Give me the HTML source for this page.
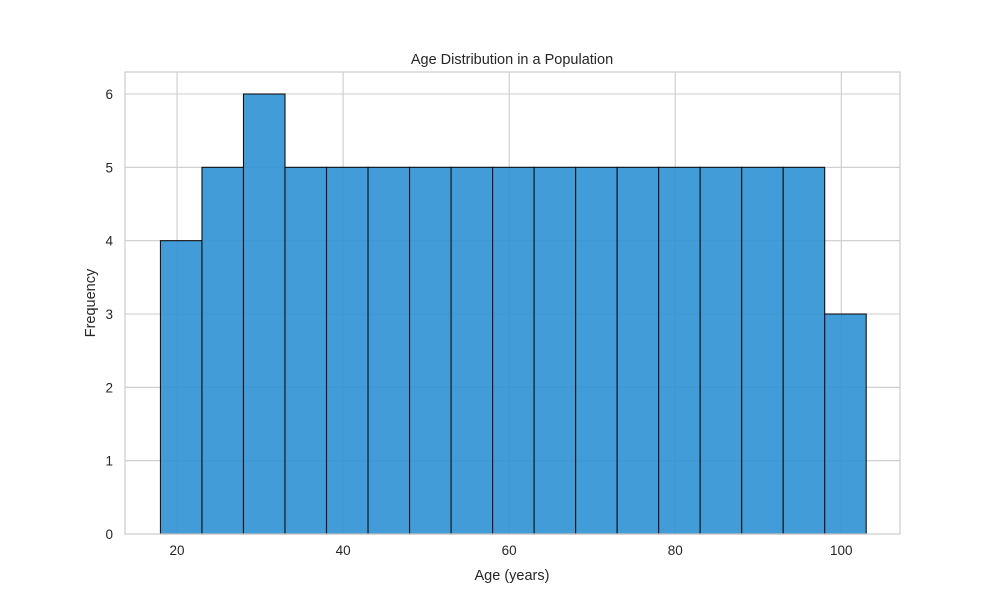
<!DOCTYPE html>
<html><head><meta charset="utf-8"><style>
body{margin:0;background:#fff;}
svg{font-family:"Liberation Sans","DejaVu Sans",sans-serif;}
</style></head><body>
<svg id="chart" width="1000" height="600" viewBox="0 0 1000 600">
<rect width="1000" height="600" fill="#fff"/>
<g id="grid"></g>
<g id="bars"></g>
<rect x="125" y="72" width="775" height="462" fill="none" stroke="#cccccc" stroke-width="1.2"/>
<g id="ticks"></g>
<text x="512" y="64" text-anchor="middle" font-size="14.5" fill="#262626">Age Distribution in a Population</text>
<text x="512" y="580" text-anchor="middle" font-size="14.5" fill="#262626">Age (years)</text>
<text x="95" y="303" text-anchor="middle" font-size="14.5" fill="#262626" transform="rotate(-90 95 303)">Frequency</text>
</svg>
<script>
const binEdgesStart = 18;
const binWidth = 5;
const counts = [4,5,6,5,5,5,5,5,5,5,5,5,5,5,5,5,3];
const xTicks = [20,40,60,80,100];
const yTicks = [0,1,2,3,4,5,6];

const NS = "http://www.w3.org/2000/svg";
const L=125,R=900,T=72,B=534;
const xMin=13.73,xMax=107.07,yMin=0,yMax=6.3;
const xs=v=>L+(v-xMin)/(xMax-xMin)*(R-L);
const ys=v=>B-(v-yMin)/(yMax-yMin)*(B-T);
function mk(tag,attrs,parent){const e=document.createElementNS(NS,tag);for(const k in attrs)e.setAttribute(k,attrs[k]);parent.appendChild(e);return e;}
const grid=document.getElementById('grid'),bars=document.getElementById('bars'),ticks=document.getElementById('ticks');
xTicks.forEach(v=>{
  const l=mk('line',{x1:xs(v),x2:xs(v),y1:T,y2:B,stroke:'#cccccc','stroke-width':1.1},grid);
  
  
  const t=mk('text',{x:xs(v),y:B+21,'text-anchor':'middle','font-size':13.5,fill:'#262626'},ticks);
  t.textContent=v;
  
  
});
yTicks.forEach(v=>{
  const l=mk('line',{x1:L,x2:R,y1:ys(v),y2:ys(v),stroke:'#cccccc','stroke-width':1.1},grid);
  
  
  const t=mk('text',{x:L-12,y:ys(v)+5,'text-anchor':'end','font-size':13.5,fill:'#262626'},ticks);
  t.textContent=v;
  
  
});
counts.forEach((c,i)=>{
  const a=binEdgesStart+i*binWidth,b=a+binWidth;
  const r=mk('rect',{x:xs(a),y:ys(c),width:xs(b)-xs(a),height:ys(0)-ys(c),fill:'rgb(45,145,212)','fill-opacity':0.9,stroke:'#111','stroke-width':1.1},bars);
  
  
});
</script>
</body></html>
